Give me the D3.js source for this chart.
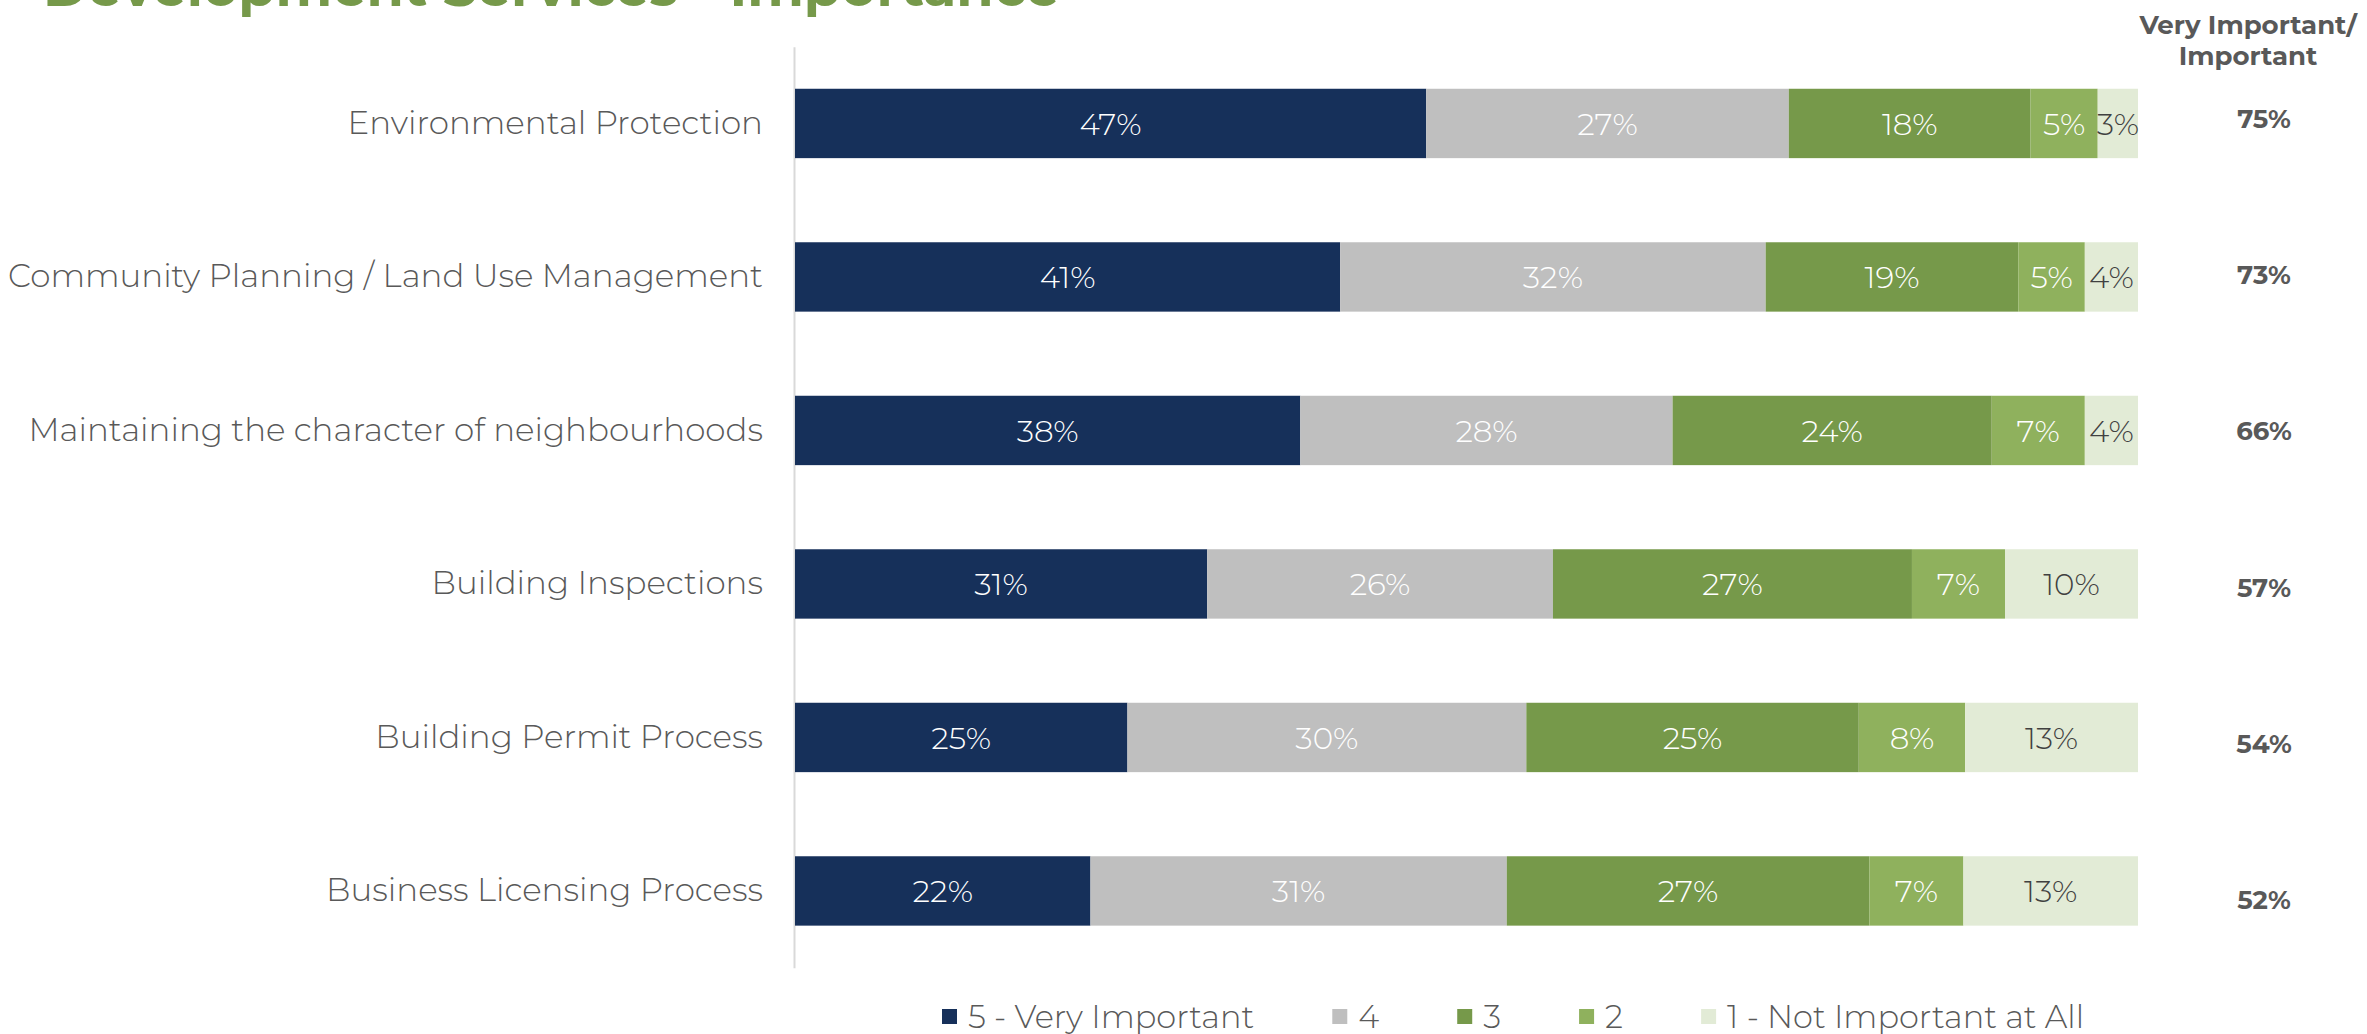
<!DOCTYPE html>
<html>
<head>
<meta charset="utf-8">
<script src="https://cdn.jsdelivr.net/npm/d3@7"></script>
<style>
  html, body { margin: 0; padding: 0; background: #ffffff; }
  svg { display: block; }
  text { font-family: "Montserrat", "Lato", sans-serif; }
</style>
</head>
<body>
<svg id="chart" width="2367" height="1034"></svg>
<script>
// Survey items, top to bottom
const categories = [
  "Environmental Protection",
  "Community Planning / Land Use Management",
  "Maintaining the character of neighbourhoods",
  "Building Inspections",
  "Building Permit Process",
  "Business Licensing Process"
];

// Rating scale, from most to least important
const ratingKeys = ["5 - Very Important", "4", "3", "2", "1 - Not Important at All"];

// Share of respondents per rating (%)
const veryImportant = [47, 41, 38, 31, 25, 22];
const rating4       = [27, 32, 28, 26, 30, 31];
const rating3       = [18, 19, 24, 27, 25, 27];
const rating2       = [5, 5, 7, 7, 8, 7];
const notImportant  = [3, 4, 4, 10, 13, 13];

// Combined "Very Important / Important" share (%)
const topTwo = [75, 73, 66, 57, 54, 52];

const colors = ["#16305a", "#bfbfbf", "#76994a", "#8fb15d", "#e2ebd6"];
const labelColors = ["#ffffff", "#ffffff", "#ffffff", "#ffffff", "#404040"];

const rows = categories.map((c, i) => ({
  category: c,
  [ratingKeys[0]]: veryImportant[i],
  [ratingKeys[1]]: rating4[i],
  [ratingKeys[2]]: rating3[i],
  [ratingKeys[3]]: rating2[i],
  [ratingKeys[4]]: notImportant[i],
  topTwo: topTwo[i]
}));

const svg = d3.select("#chart");

const x = d3.scaleLinear().domain([0, 1]).range([795, 2138]);
const y = d3.scaleBand().domain(categories)
  .range([46.7, 967.7]).paddingInner(0.548).paddingOuter(0.274);
const color = d3.scaleOrdinal().domain(ratingKeys).range(colors);
const labelColor = d3.scaleOrdinal().domain(ratingKeys).range(labelColors);

// 100% stacked layout
const series = d3.stack().keys(ratingKeys).offset(d3.stackOffsetExpand)(rows);

// Title
svg.append("text")
  .attr("x", 43).attr("y", 6)
  .attr("fill", "#76994a")
  .attr("font-weight", 700)
  .attr("font-size", 54)
  .text("Development Services - Importance");

// Category axis
const yAxis = svg.append("g")
  .attr("transform", `translate(${x(0) - 1},0)`)
  .call(d3.axisLeft(y).tickSize(0).tickSizeOuter(0).tickPadding(31));
yAxis.select(".domain").attr("stroke", "#d9d9d9").attr("stroke-width", 2);
yAxis.selectAll(".tick text")
  .attr("fill", "#595959")
  .attr("font-size", 32.5)
  .attr("font-weight", 300)
  .style("font-family", '"Montserrat", "Lato", sans-serif');

// Segments
const layer = svg.append("g").selectAll("g")
  .data(series).join("g")
  .attr("fill", d => color(d.key));

layer.selectAll("rect")
  .data(d => d.map(p => ({ key: d.key, p })))
  .join("rect")
  .attr("x", d => x(d.p[0]))
  .attr("width", d => x(d.p[1]) - x(d.p[0]))
  .attr("y", d => y(d.p.data.category))
  .attr("height", y.bandwidth());

// Segment value labels
svg.append("g").selectAll("g")
  .data(series).join("g")
  .attr("fill", d => labelColor(d.key))
  .selectAll("text")
  .data(d => d.map(p => ({ key: d.key, p })))
  .join("text")
  .attr("x", d => (x(d.p[0]) + x(d.p[1])) / 2)
  .attr("y", d => y(d.p.data.category) + y.bandwidth() / 2)
  .attr("dy", "0.36em")
  .attr("text-anchor", "middle")
  .attr("font-size", 31)
  .attr("font-weight", 300)
  .text(d => d.p.data[d.key] + "%");

// Summary column
const header = svg.append("text")
  .attr("x", 2248).attr("y", 34)
  .attr("text-anchor", "middle")
  .attr("fill", "#595959")
  .attr("font-weight", 700)
  .attr("font-size", 26);
header.append("tspan").attr("x", 2248).attr("dy", 0).text("Very Important/");
header.append("tspan").attr("x", 2248).attr("dy", 31).text("Important");

const ySummary = d3.scalePoint().domain(categories).range([118.5, 900]);
svg.append("g").selectAll("text")
  .data(rows).join("text")
  .attr("x", 2264)
  .attr("y", d => ySummary(d.category))
  .attr("dy", "0.36em")
  .attr("text-anchor", "middle")
  .attr("fill", "#595959")
  .attr("font-weight", 700)
  .attr("font-size", 26)
  .text(d => d.topTwo + "%");

// Legend
const legend = svg.append("g").attr("transform", "translate(942,1016)");
let lx = 0;
ratingKeys.forEach(k => {
  const item = legend.append("g").attr("transform", `translate(${lx},0)`);
  item.append("rect").attr("x", 0).attr("y", -7).attr("width", 15).attr("height", 15)
    .attr("fill", color(k));
  const t = item.append("text").attr("x", 26).attr("dy", "0.36em")
    .attr("fill", "#595959").attr("font-size", 32).attr("font-weight", 300).text(k);
  lx += 26 + t.node().getComputedTextLength() + 78;
});
</script>
</body>
</html>
